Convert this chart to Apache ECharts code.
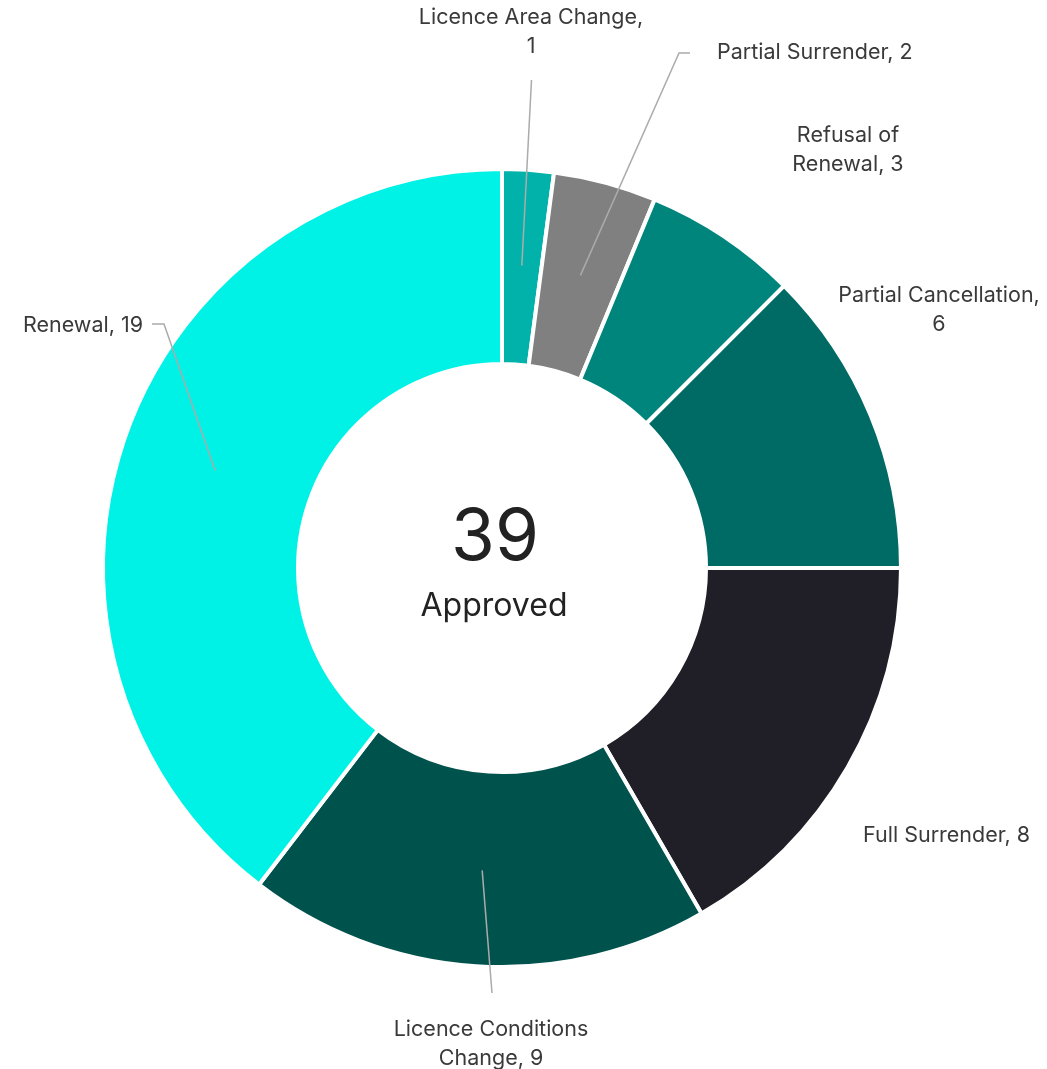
<!DOCTYPE html>
<html><head><meta charset="utf-8">
<script src="https://cdn.jsdelivr.net/npm/echarts@6/dist/echarts.min.js"></script>
<style>html,body{margin:0;padding:0;background:#fff}#chart{width:1047px;height:1069px}</style>
</head><body><div id="chart"></div>
<script>
// ---- data ----
const categories = ['Licence Area Change', 'Partial Surrender', 'Refusal of Renewal', 'Partial Cancellation', 'Full Surrender', 'Licence Conditions Change', 'Renewal'];
const values = [1, 2, 3, 6, 8, 9, 19];
const centerValue = '39';
const centerLabel = 'Approved';

// ---- style / layout ----
const colors = ['#00B2A9', '#808080', '#00857C', '#006B65', '#201F27', '#00524C', '#00F2E6'];
const CX = 502, CY = 568, R_IN = 204, R_OUT = 399, R_MID = 303;
const FONT = 'Inter, "Noto Sans", sans-serif';
const wrapAfterWord = [3, 0, 2, 2, 0, 2, 0];
const labelPlace = [
  { x: 531, y: 32, align: 'center', line: [[531.5, 80]] },
  { x: 717, y: 53, align: 'left', line: [[679, 53], [690, 53]] },
  { x: 848, y: 150, align: 'center' },
  { x: 939, y: 310, align: 'center' },
  { x: 863, y: 836, align: 'left' },
  { x: 491, y: 1044, align: 'center', line: [[492, 993]] },
  { x: 143, y: 326, align: 'right', line: [[164, 324], [152, 324]] }
];

const total = values.reduce((a, b) => a + b, 0);
const midAngles = [];
{ let cum = 0; values.forEach(v => { midAngles.push((cum + v / 2) / total * 2 * Math.PI); cum += v; }); }

function labelText(i) {
  const words = (categories[i] + ', ' + values[i]).split(' ');
  const k = wrapAfterWord[i];
  if (!k) return words.join(' ');
  return words.slice(0, k).join(' ') + '\n' + words.slice(k).join(' ');
}

const sliceData = categories.map((c, i) => ({
  name: c, value: values[i], itemStyle: { color: colors[i] }
}));
const labelData = categories.map((c, i) => ({
  name: c, value: values[i], labelLine: { show: !!labelPlace[i].line }
}));

const chart = echarts.init(document.getElementById('chart'), null, { renderer: 'canvas' });
chart.setOption({
  animation: false,
  backgroundColor: '#ffffff',
  series: [{
    type: 'pie',
    silent: true,
    z: 2,
    center: [CX, CY],
    radius: [R_IN, R_OUT],
    startAngle: 90,
    clockwise: true,
    itemStyle: { borderColor: '#ffffff', borderWidth: 4 },
    label: { show: false },
    labelLine: { show: false },
    data: sliceData
  }, {
    type: 'pie',
    silent: true,
    z: 5,
    center: [CX, CY],
    radius: [R_IN, R_OUT],
    startAngle: 90,
    clockwise: true,
    avoidLabelOverlap: false,
    itemStyle: { color: 'rgba(0,0,0,0)', borderWidth: 0 },
    label: {
      show: true,
      position: 'outside',
      formatter: p => labelText(p.dataIndex),
      fontFamily: FONT,
      fontSize: 21.5,
      color: '#3a3a3a',
      lineHeight: 29,
      overflow: 'none'
    },
    labelLine: { show: true, length: 20, length2: 10, smooth: false, lineStyle: { color: '#ABABAB', width: 1.5 } },
    labelLayout: p => {
      const i = p.dataIndex;
      const L = labelPlace[i];
      const a = midAngles[i];
      const start = [CX + R_MID * Math.sin(a), CY - R_MID * Math.cos(a)];
      const res = { x: L.x, y: L.y, align: L.align, verticalAlign: 'middle', hideOverlap: false, moveOverlap: null };
      if (L.line) {
        const pts = [start].concat(L.line);
        if (pts.length === 2) pts.push(pts[1].slice());
        res.labelLinePoints = pts;
      }
      return res;
    },
    data: labelData
  }],
  graphic: [
    { type: 'text', x: 495, y: 539, silent: true, z: 10,
      style: { text: centerValue, fontFamily: FONT, fontSize: 71, fill: '#222222', align: 'center', verticalAlign: 'middle' } },
    { type: 'text', x: 494, y: 606, silent: true, z: 10,
      style: { text: centerLabel, fontFamily: FONT, fontSize: 32, fill: '#222222', align: 'center', verticalAlign: 'middle' } }
  ]
});
</script>
</body></html>
